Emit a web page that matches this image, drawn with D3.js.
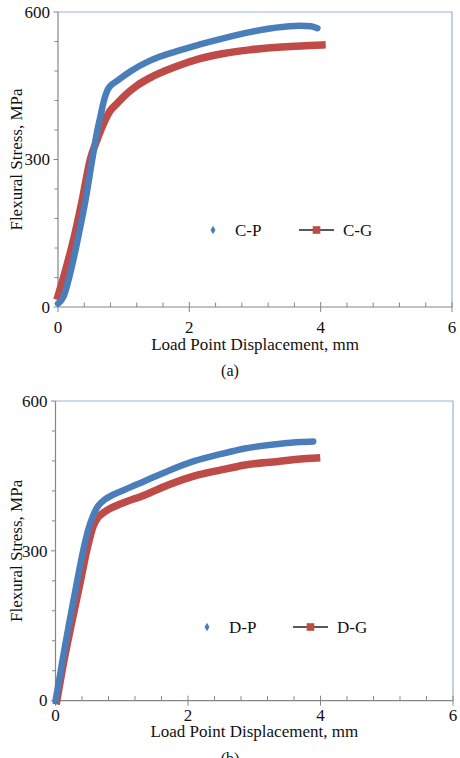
<!DOCTYPE html>
<html><head><meta charset="utf-8">
<script src="https://cdn.jsdelivr.net/npm/d3@7"></script>
<style>body{margin:0;background:#fff}svg{display:block}text{font-family:"Liberation Serif","Times New Roman",serif;fill:#111}</style>
</head><body><svg id="c" width="460" height="758"></svg>
<script>
// ---- data ----
const xMajorTicks = [0, 2, 4, 6];
const yMajorTicks = [0, 300, 600];
const xMinorStep = 0.4;
const yMinorStep = 60;
const xLabel = "Load Point Displacement, mm";
const yLabel = "Flexural Stress, MPa";

// panel (a)
const cpX = [0, 0.08, 0.21, 0.32, 0.42, 0.52, 0.59, 0.65, 0.7, 0.75, 0.8, 0.9, 1.1, 1.4, 1.8, 2.16, 2.5, 2.92, 3.2, 3.45, 3.7, 3.85, 3.95];
const cpY = [7, 20, 82, 150, 218, 299, 353, 390, 420, 440, 450, 460, 479, 501, 520, 534, 546, 559, 566, 570, 572, 571, 567];
const cgX = [0, 0.13, 0.26, 0.37, 0.49, 0.6, 0.7, 0.78, 0.9, 1.0, 1.2, 1.4, 1.8, 2.16, 2.5, 2.92, 3.4, 3.7, 4.02];
const cgY = [22, 82, 150, 218, 299, 342, 375, 396, 414, 428, 450, 466, 489, 505, 515, 523, 529, 531, 533];
// panel (b)
const dpX = [0, 0.06, 0.12, 0.22, 0.32, 0.42, 0.5, 0.56, 0.62, 0.7, 0.85, 1.0, 1.35, 1.7, 2.1, 2.5, 2.86, 3.36, 3.7, 3.89];
const dpY = [0, 45, 92, 165, 235, 302, 345, 368, 385, 398, 411, 420, 440, 460, 480, 494, 505, 514, 518, 519];
const dgX = [0.02, 0.12, 0.25, 0.37, 0.47, 0.57, 0.64, 0.7, 0.8, 1.0, 1.35, 1.7, 2.1, 2.5, 2.86, 3.36, 3.7, 3.94];
const dgY = [0, 75, 160, 235, 300, 350, 367, 374, 383, 395, 412, 432, 450, 462, 472, 479, 484, 486];

const seriesNames = [["C-P", "C-G"], ["D-P", "D-G"]];
const captions = ["(a)", "(b)"];

// ---- layout ----
const BLUE = "#4a7ebb", RED = "#be4b48", AX = "#868686", FRAME = "#95b3d7";
const panels = [
  {left:58, right:452, top:12, bottom:307, tickBase:25.7, titleBase:43, capBase:68.5,
   p:[cpX,cpY], g:[cgX,cgY], names:seriesNames[0], cap:captions[0],
   leg:{x:213, y:230}},
  {left:55.5, right:453, top:401, bottom:700.7, tickBase:19.8, titleBase:36, capBase:63.5,
   p:[dpX,dpY], g:[dgX,dgY], names:seriesNames[1], cap:captions[1],
   leg:{x:207, y:627}}
];

const svg = d3.select("#c");

panels.forEach(P => {
  const x = d3.scaleLinear().domain([0, 6]).range([P.left, P.right]);
  const y = d3.scaleLinear().domain([0, 600]).range([P.bottom, P.top]);
  const g = svg.append("g");

  // frame top/right
  g.append("path").attr("d", `M${P.left},${P.top}H${P.right}V${P.bottom}`)
    .attr("fill","none").attr("stroke",FRAME).attr("stroke-width",1.2);

  // minor ticks
  const xMinor = d3.range(0, 6.0001, xMinorStep).filter(v => !xMajorTicks.some(m => Math.abs(m-v)<1e-6));
  const yMinor = d3.range(0, 600.001, yMinorStep).filter(v => !yMajorTicks.some(m => Math.abs(m-v)<1e-6));
  g.selectAll(".xm").data(xMinor).join("line")
    .attr("x1", d=>x(d)).attr("x2", d=>x(d)).attr("y1", P.bottom).attr("y2", P.bottom-4.5)
    .attr("stroke", AX).attr("stroke-width",1);
  g.selectAll(".xM").data(xMajorTicks).join("line")
    .attr("x1", d=>x(d)).attr("x2", d=>x(d)).attr("y1", P.bottom-5).attr("y2", P.bottom+5)
    .attr("stroke", AX).attr("stroke-width",1);
  g.selectAll(".ym").data(yMinor).join("line")
    .attr("x1", P.left-3.5).attr("x2", P.left).attr("y1", d=>y(d)).attr("y2", d=>y(d))
    .attr("stroke", AX).attr("stroke-width",1);
  g.selectAll(".yM").data(yMajorTicks).join("line")
    .attr("x1", P.left-4.5).attr("x2", P.left).attr("y1", d=>y(d)).attr("y2", d=>y(d))
    .attr("stroke", AX).attr("stroke-width",1);

  // axis lines
  g.append("line").attr("x1",P.left).attr("x2",P.left).attr("y1",P.top).attr("y2",P.bottom)
    .attr("stroke",AX).attr("stroke-width",1.2);
  g.append("line").attr("x1",P.left).attr("x2",P.right).attr("y1",P.bottom).attr("y2",P.bottom)
    .attr("stroke",AX).attr("stroke-width",1.2);

  // tick labels
  g.selectAll(".xl").data(xMajorTicks).join("text")
    .attr("x", d=>x(d)).attr("y", P.bottom+P.tickBase).attr("text-anchor","middle")
    .attr("font-size",17).text(d=>d);
  g.selectAll(".yl").data(yMajorTicks).join("text")
    .attr("x", P.left-8).attr("y", d=>y(d)).attr("dy","0.34em").attr("text-anchor","end")
    .attr("font-size",17).text(d=>d);

  // titles
  g.append("text").attr("x",(P.left+P.right)/2).attr("y",P.bottom+P.titleBase)
    .attr("text-anchor","middle").attr("font-size",17).text(xLabel);
  g.append("text").attr("transform",`translate(21.5,${(P.top+P.bottom)/2}) rotate(-90)`)
    .attr("text-anchor","middle").attr("font-size",17).text(yLabel);
  g.append("text").attr("x",230).attr("y",P.bottom+P.capBase)
    .attr("text-anchor","middle").attr("font-size",16).text(P.cap);

  // data
  const line = d3.line().x(d=>x(d[0])).y(d=>y(d[1])).curve(d3.curveMonotoneX);
  const gData = P.g[0].map((v,i)=>[v,P.g[1][i]]);
  const pData = P.p[0].map((v,i)=>[v,P.p[1][i]]);
  g.append("path").attr("d", line(gData)).attr("fill","none").attr("stroke",RED)
    .attr("stroke-width",7.5).attr("stroke-linejoin","round").attr("stroke-linecap","square");
  g.append("path").attr("d", line(pData)).attr("fill","none").attr("stroke",BLUE)
    .attr("stroke-width",6.5).attr("stroke-linejoin","round").attr("stroke-linecap","round");

  // legend
  const L = P.leg;
  g.append("path").attr("d", d3.symbol(d3.symbolDiamond, 22)()).attr("transform",`translate(${L.x},${L.y})`)
    .attr("fill",BLUE);
  g.append("text").attr("x",L.x+22).attr("y",L.y+6.3).attr("font-size",17).text(P.names[0]);
  g.append("line").attr("x1",L.x+86).attr("x2",L.x+121).attr("y1",L.y).attr("y2",L.y)
    .attr("stroke","#222").attr("stroke-width",1.3);
  g.append("rect").attr("x",L.x+103.5-3.8).attr("y",L.y-3.8).attr("width",7.6).attr("height",7.6).attr("fill",RED);
  g.append("text").attr("x",L.x+130).attr("y",L.y+6.3).attr("font-size",17).text(P.names[1]);
});
</script>
</body></html>
